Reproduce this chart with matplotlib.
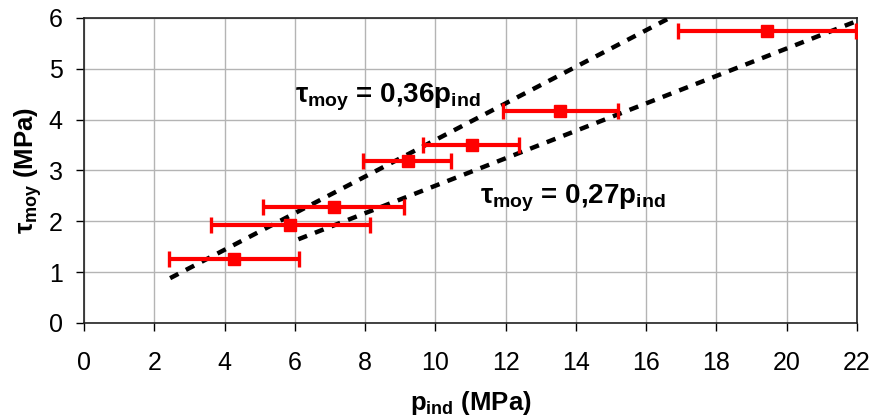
import matplotlib
matplotlib.use("Agg")
import numpy as np
import matplotlib.pyplot as plt

# Data
p_ind = [4.27, 5.87, 7.12, 9.22, 11.04, 13.56, 19.45]
tau_moy = [1.25, 1.92, 2.29, 3.18, 3.50, 4.17, 5.75]
p_low = [2.42, 3.60, 5.09, 7.95, 9.65, 11.92, 16.91]
p_high = [6.13, 8.14, 9.12, 10.45, 12.39, 15.19, 21.97]

# Fitted lines tau = k * p
k_high = 0.36
k_low = 0.27
x_high = [2.45, 6.0 / k_high]
x_low = [6.1, 21.9]

x_ticks = list(range(0, 23, 2))
y_ticks = list(range(0, 7))

plt.rcParams["font.family"] = ["Liberation Sans", "DejaVu Sans"]
plt.rcParams["mathtext.fontset"] = "custom"
plt.rcParams["mathtext.rm"] = "Liberation Sans:bold"
plt.rcParams["mathtext.it"] = "Liberation Sans:bold"
plt.rcParams["mathtext.bf"] = "Liberation Sans:bold"

fig = plt.figure(figsize=(8.7, 4.18), dpi=100)
ax = fig.add_axes([0.0966, 0.2273, 0.8884, 0.7297])

# Error bars (horizontal)
xerr = [np.array(p_ind) - np.array(p_low), np.array(p_high) - np.array(p_ind)]
ax.errorbar(p_ind, tau_moy, xerr=xerr, fmt="s", color="#ff0000",
            markersize=8.5, elinewidth=3, capsize=6, capthick=2.4,
            zorder=4)

# Dotted trend lines
ax.plot(x_high, [k_high * v for v in x_high], color="black", lw=3.2,
        dashes=(2.1, 1.9), zorder=3)
ax.plot(x_low, [k_low * v for v in x_low], color="black", lw=3.2,
        dashes=(2.1, 1.9), zorder=3)

ax.text(6.0, 4.43, r"$\tau_{moy}$ = 0,36p$_{ind}$", fontsize=20,
        fontweight="bold", va="center", ha="left")
ax.text(11.28, 2.46, r"$\tau_{moy}$ = 0,27p$_{ind}$", fontsize=20,
        fontweight="bold", va="center", ha="left")

ax.set_xlim(0, 22)
ax.set_ylim(0, 6)
ax.set_xticks(x_ticks)
ax.set_yticks(y_ticks)
ax.tick_params(direction="out", length=5.5, width=1, labelsize=18)
ax.tick_params(axis="x", pad=15)
ax.tick_params(axis="y", pad=10)
ax.grid(True, color="#b4b4b4", linewidth=1)
ax.set_axisbelow(True)
for s in ax.spines.values():
    s.set_linewidth(1.2)
    s.set_color("#222222")

ax.set_xlabel(r"p$_{ind}$ (MPa)", fontsize=18.5, fontweight="bold", labelpad=10)
ax.set_ylabel(r"$\tau_{moy}$ (MPa)", fontsize=18.5, fontweight="bold", labelpad=3)

fig.savefig("out.png", dpi=100)
